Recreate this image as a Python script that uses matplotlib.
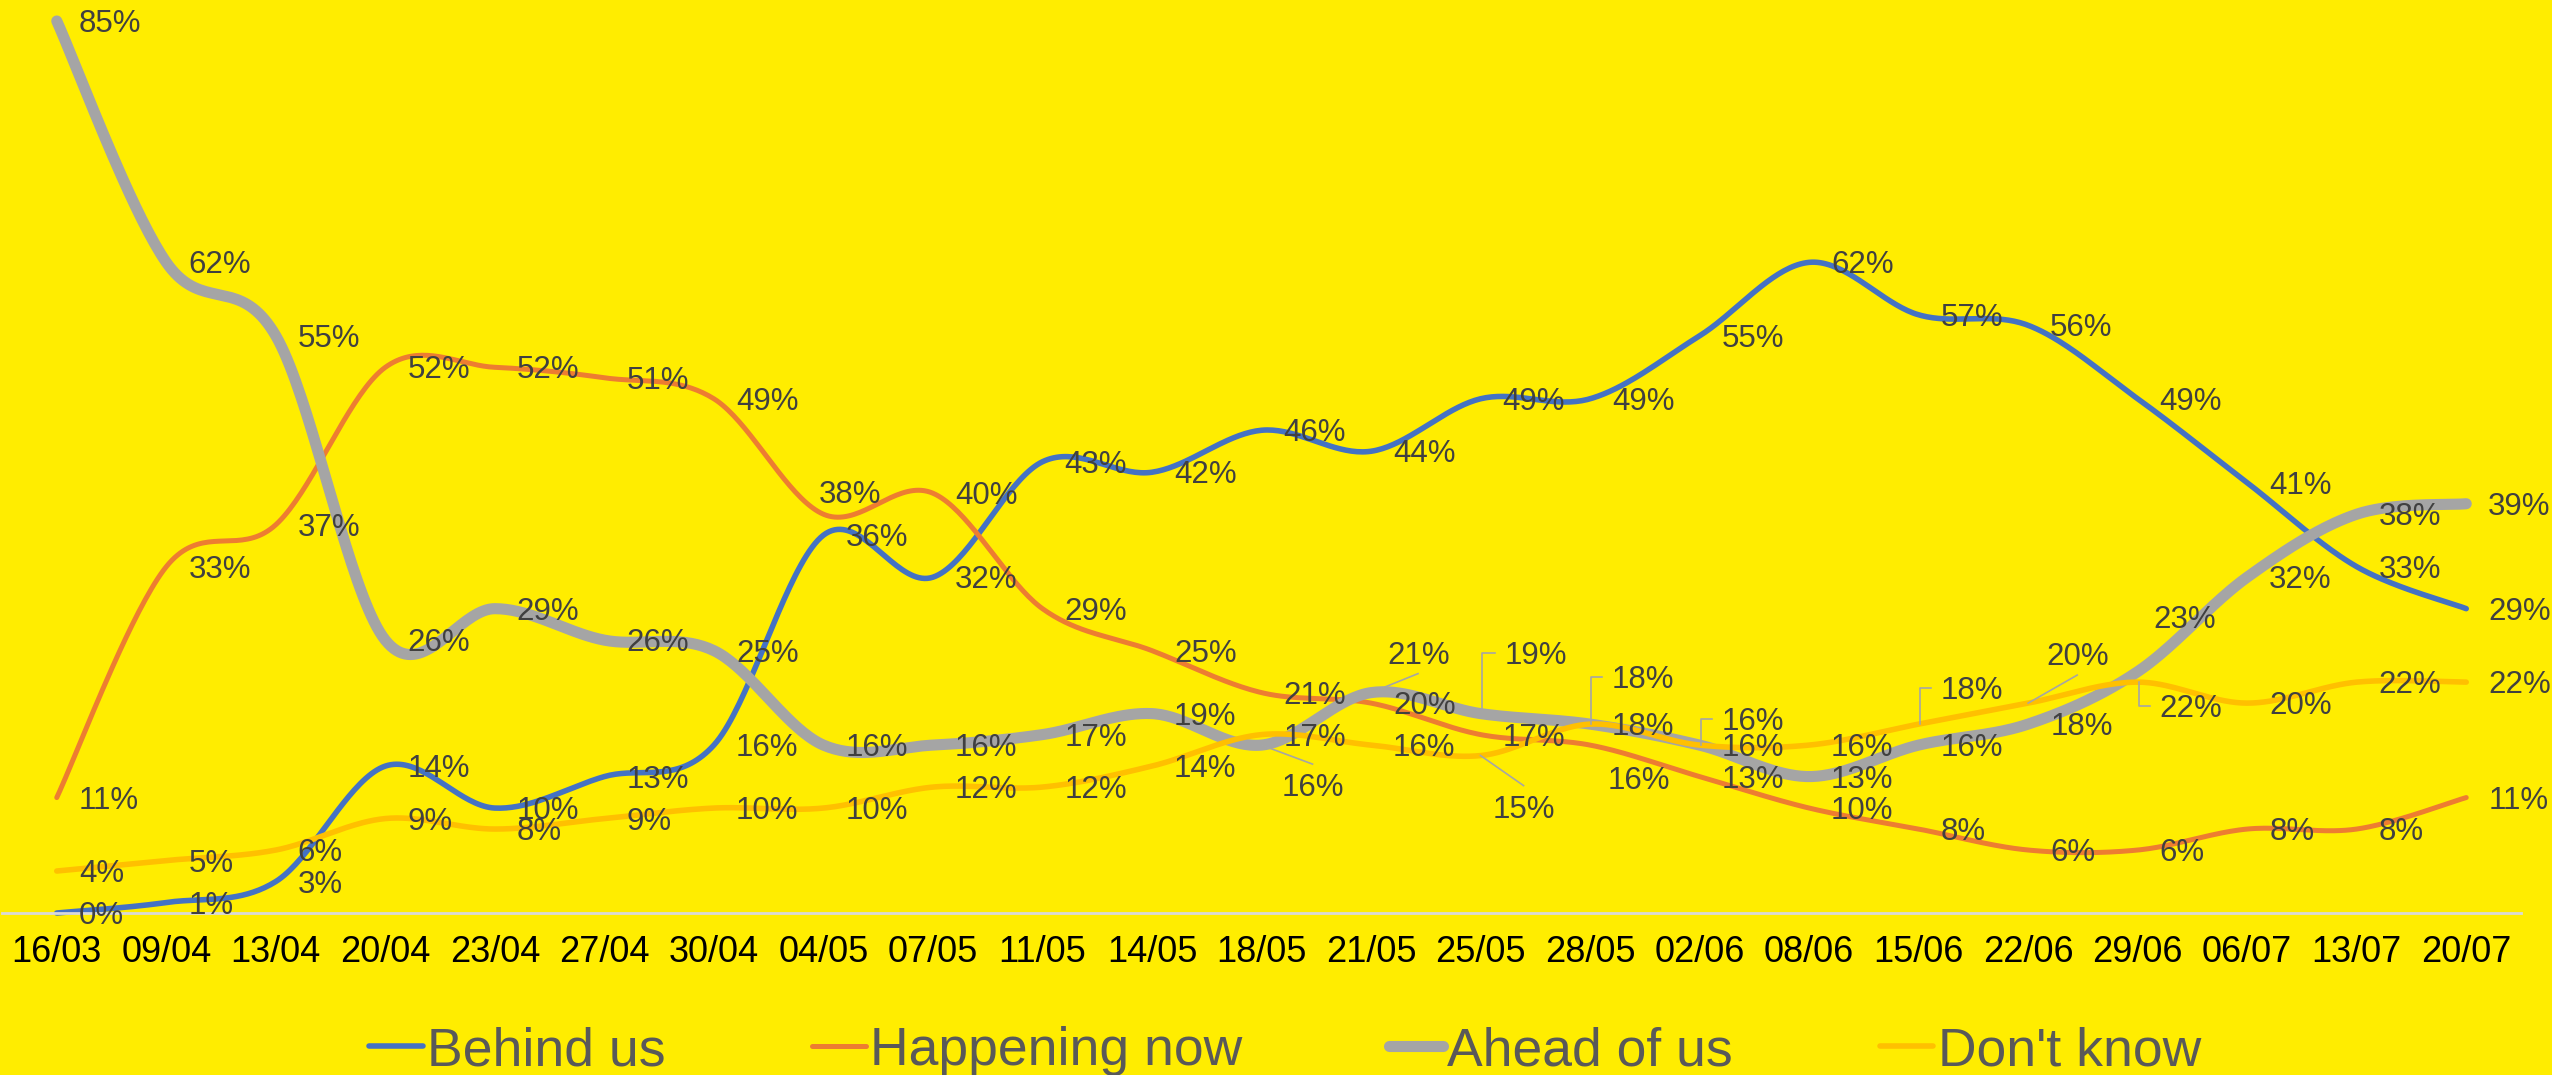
import numpy as np
import matplotlib
matplotlib.use("Agg")
import matplotlib.pyplot as plt
from matplotlib.lines import Line2D

dates = ['16/03', '09/04', '13/04', '20/04', '23/04', '27/04', '30/04', '04/05',
         '07/05', '11/05', '14/05', '18/05', '21/05', '25/05', '28/05', '02/06',
         '08/06', '15/06', '22/06', '29/06', '06/07', '13/07', '20/07']

behind_us = [0, 1, 3, 14, 10, 13, 16, 36, 32, 43, 42, 46, 44, 49, 49, 55, 62, 57, 56, 49, 41, 33, 29]
happening_now = [11, 33, 37, 52, 52, 51, 49, 38, 40, 29, 25, 21, 20, 17, 16, 13, 10, 8, 6, 6, 8, 8, 11]
ahead_of_us = [85, 62, 55, 26, 29, 26, 25, 16, 16, 17, 19, 16, 21, 19, 18, 16, 13, 16, 18, 23, 32, 38, 39]
dont_know = [4, 5, 6, 9, 8, 9, 10, 10, 12, 12, 14, 17, 16, 15, 18, 16, 16, 18, 20, 22, 20, 22, 22]

series_names = ['Behind us', 'Happening now', 'Ahead of us', "Don't know"]
series_values = [behind_us, happening_now, ahead_of_us, dont_know]
series_colors = ['#4472C4', '#ED7D31', '#A5A5A5', '#FFC000']
series_widths = [4.0, 3.6, 8.0, 4.0]

# labels moved by hand in the original: (series, point) -> (dx, dy down, leader)
label_moves = {
    (2, 11): (-2, 40, 'line'),
    (2, 12): (-6, -40, 'line'),
    (2, 13): (2, -61, 'elbow'),
    (3, 13): (-10, 51, 'line'),
    (2, 14): (0, -47, 'elbow'),
    (1, 14): (-4, 33, None),
    (2, 15): (0, -26, 'elbow'),
    (3, 17): (0, -36, 'elbow'),
    (3, 18): (-4, -49, 'line'),
    (2, 19): (-6, -55, None),
    (3, 19): (0, 24, 'elbow'),
    (1, 7): (-27, -22, None),
}

BG = '#FFED00'
LABEL_DX = 22
HALF_CAP = 11


def smooth(x, y, n=40):
    # bezier smoothing like the spreadsheet "smoothed line"
    pts = np.column_stack([x, y]).astype(float)
    out = []
    for i in range(len(pts) - 1):
        p0 = pts[i - 1] if i > 0 else pts[i]
        p1 = pts[i]
        p2 = pts[i + 1]
        p3 = pts[i + 2] if i + 2 < len(pts) else pts[i + 1]
        c1 = p1 + (p2 - p0) / 6.0
        c2 = p2 - (p3 - p1) / 6.0
        t = np.linspace(0, 1, n)[:, None]
        seg = ((1 - t) ** 3) * p1 + 3 * ((1 - t) ** 2) * t * c1 + 3 * (1 - t) * t ** 2 * c2 + t ** 3 * p2
        out.append(seg if i == 0 else seg[1:])
    out = np.vstack(out)
    return out[:, 0], out[:, 1]


plt.rcParams['font.family'] = ['Liberation Sans', 'DejaVu Sans']

fig = plt.figure(figsize=(25.52, 10.75), dpi=100, facecolor=BG)
ax = fig.add_axes([2 / 2552, 162 / 1075, 2519 / 2552, 913 / 1075])
ax.set_facecolor(BG)

x = np.arange(len(dates))
handles = []
for k in range(4):
    sx, sy = smooth(x, series_values[k])
    ln, = ax.plot(sx, sy, color=series_colors[k], lw=series_widths[k],
                  solid_capstyle='round', clip_on=False, zorder=2 + k,
                  label=series_names[k])
    handles.append(ln)

ax.set_xlim(-0.5, len(dates) - 0.5)
ax.set_ylim(0, 87.0)
ax.set_xticks(x)
ax.set_xticklabels(dates, fontsize=26, color='black')
ax.tick_params(axis='x', length=0, pad=16)
ax.set_yticks([])
for s in ['top', 'left', 'right']:
    ax.spines[s].set_visible(False)
ax.spines['bottom'].set_color('#D9D9D9')
ax.spines['bottom'].set_linewidth(2.0)

# data labels
for k in range(4):
    for i, v in enumerate(series_values[k]):
        dx, dy, leader = label_moves.get((k, i), (0, 0, None))
        ax.annotate(f'{v}%', xy=(i, v), xytext=(LABEL_DX + dx, -dy - HALF_CAP),
                    textcoords='offset pixels', ha='left', va='baseline',
                    fontsize=22.5, color='#404040', zorder=10)
        if leader is None:
            continue
        px, py = ax.transData.transform((i, v))
        left = px + LABEL_DX + dx
        cy = py - dy
        if leader == 'line':
            if dy < 0:
                ey = cy - HALF_CAP - 10
            else:
                ey = cy + HALF_CAP + 10
            xs = [px, left + 31]
            ys = [py, ey]
        else:
            xs = [px + 1, px + 1, left - 10]
            ys = [py, cy, cy]
        fig.add_artist(Line2D(xs, ys, transform=None, color='#A6A6A6', lw=1.2, zorder=1))

fig.legend(handles=handles, loc='center', bbox_to_anchor=(1285 / 2552, 24 / 1075),
           ncol=4, frameon=False, fontsize=38.5, labelcolor='#595959',
           handlelength=1.0, handletextpad=0.08, columnspacing=2.75, borderpad=0)

fig.savefig('out.png', dpi=100, facecolor=BG)
